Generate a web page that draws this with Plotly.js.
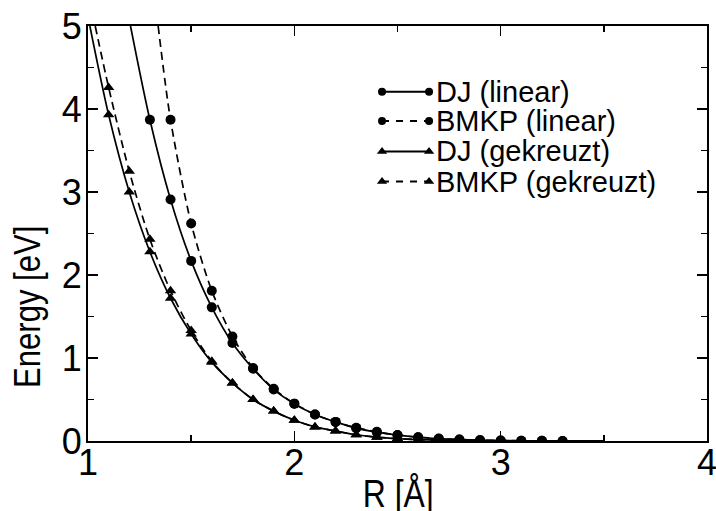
<!DOCTYPE html>
<html>
<head>
<meta charset="utf-8">
<script src="https://cdn.plot.ly/plotly-3.0.1.min.js"></script>
<style>html,body{margin:0;padding:0;background:#fff;}#chart{width:716px;height:511px;}</style>
</head>
<body>
<div id="chart"></div>
<script>
// ---- data ----
const SERIES_NAMES = ["DJ (linear)", "BMKP (linear)", "DJ (gekreuzt)", "BMKP (gekreuzt)"];

// marker points
const R_DJ_LIN = [1.3,1.4,1.5,1.6,1.7,1.8,1.9,2.0,2.1,2.2,2.3,2.4,2.5,2.6,2.7,2.8,2.9,3.0,3.1,3.2,3.3];
const E_DJ_LIN = [3.87,2.91,2.17,1.61,1.18,0.87,0.62,0.45,0.32,0.23,0.155,0.106,0.07,0.045,0.028,0.017,0.01,0.006,0.003,0.002,0.001];

const R_BMKP_LIN = [1.4,1.5,1.6,1.7,1.8,1.9,2.0,2.1,2.2,2.3,2.4,2.5,2.6,2.7,2.8,2.9,3.0,3.1,3.2,3.3];
const E_BMKP_LIN = [3.87,2.62,1.81,1.26,0.88,0.63,0.45,0.32,0.23,0.16,0.11,0.072,0.046,0.029,0.018,0.011,0.006,0.003,0.002,0.001];

const R_DJ_GEK = [1.1,1.2,1.3,1.4,1.5,1.6,1.7,1.8,1.9,2.0,2.1,2.2,2.3,2.4,2.5,2.6,2.7,2.8,2.9,3.0];
const E_DJ_GEK = [3.93,3.0,2.28,1.72,1.29,0.95,0.70,0.50,0.36,0.25,0.17,0.12,0.075,0.046,0.028,0.017,0.01,0.006,0.003,0.002];

const R_BMKP_GEK = [1.1,1.2,1.3,1.4,1.5,1.6,1.7,1.8,1.9,2.0,2.1,2.2,2.3,2.4,2.5,2.6,2.7,2.8,2.9,3.0];
const E_BMKP_GEK = [4.26,3.25,2.43,1.81,1.33,0.96,0.70,0.50,0.36,0.25,0.17,0.12,0.075,0.046,0.028,0.017,0.01,0.006,0.003,0.002];

// curve end points (where each line leaves the top, and where it ends)
const R_TOP = [1.206, 1.34, 1.009, 1.035];
const E_TOP = [5, 5, 5, 5];
const R_END = [3.5, 3.5, 3.5, 3.5];
const E_END = [0, 0, 0, 0];

const X_TICKS = [1,2,3,4];
const Y_TICKS = [0,1,2,3,4,5];
const X_TITLE = "R [Å]";
const Y_TITLE = "Energy [eV]";

// ---- styling ----
const DASHES = ["solid", "8px,5px", "solid", "8px,5px"];
const LEG_DASHES = ["solid", "7px,7px", "solid", "7px,7px"];
const SYMBOLS = ["circle", "circle", "triangle-up", "triangle-up"];
const MSIZE = [10, 10, 10, 10];
const LEG_MSIZE = [8, 8, 9, 9];
const TICKFONT = "Liberation Sans, Arial, sans-serif";
const TITLEFONT = "Liberation Sans, Arial, sans-serif";
const TITLE_SQUEEZE = 0.84; // titles in the reference use a narrow face

const MX = [R_DJ_LIN, R_BMKP_LIN, R_DJ_GEK, R_BMKP_GEK];
const MY = [E_DJ_LIN, E_BMKP_LIN, E_DJ_GEK, E_BMKP_GEK];

const traces = [];
for (let i = 0; i < 4; i++) {
  traces.push({
    x: [R_TOP[i]].concat(MX[i], [R_END[i]]),
    y: [E_TOP[i]].concat(MY[i], [E_END[i]]),
    mode: "lines", type: "scatter", showlegend: false, hoverinfo: "skip",
    line: {color: "#000", width: 1.7, dash: DASHES[i], shape: "spline", smoothing: 0.8}
  });
}
for (let i = 0; i < 4; i++) {
  traces.push({
    x: MX[i], y: MY[i], mode: "markers", type: "scatter", name: SERIES_NAMES[i], showlegend: false,
    marker: {symbol: SYMBOLS[i], size: MSIZE[i], color: "#000"}
  });
}
// legend glyphs in an invisible 0..1 overlay frame
const LEG_X = [0.475, 0.551];
const LEG_Y = [0.8417, 0.771, 0.6976, 0.6253];
const annotations = [];
for (let i = 0; i < 4; i++) {
  traces.push({
    x: LEG_X, y: [LEG_Y[i], LEG_Y[i]], xaxis: "x2", yaxis: "y2",
    mode: "lines+markers", type: "scatter", showlegend: false, hoverinfo: "skip",
    line: {color: "#000", width: 2, dash: LEG_DASHES[i]},
    marker: {symbol: SYMBOLS[i], size: LEG_MSIZE[i], color: "#000"}
  });
  annotations.push({
    xref: "paper", yref: "paper", x: 0.5633, y: LEG_Y[i], xanchor: "left", yanchor: "middle", xshift: -3,
    text: SERIES_NAMES[i], showarrow: false,
    font: {family: TICKFONT, size: 29, color: "#000"}
  });
}
annotations.push({
  xref: "paper", yref: "paper", x: 0, y: 0.323, xanchor: "right", yanchor: "middle", xshift: -38,
  text: Y_TITLE, textangle: -90, showarrow: false, name: "ytitle",
  font: {family: TITLEFONT, size: 37, color: "#000"}
});
annotations.push({
  xref: "paper", yref: "paper", x: 0.5, y: 0, xanchor: "center", yanchor: "top", yshift: -29,
  text: X_TITLE, showarrow: false, name: "xtitle",
  font: {family: TITLEFONT, size: 38, color: "#000"}
});

const axisCommon = {
  showgrid: false, zeroline: false, showline: true, linecolor: "#000", linewidth: 2,
  mirror: "ticks", ticks: "inside", ticklen: 10, tickwidth: 1.5, tickcolor: "#000",
  tickfont: {family: TICKFONT, size: 36, color: "#000"}, tickmode: "array",
  ticklabeloverflow: "allow"
};

const layout = {
  width: 716, height: 511,
  margin: {l: 88, r: 9, t: 26, b: 70, pad: 0},
  paper_bgcolor: "#fff", plot_bgcolor: "#fff",
  showlegend: false,
  xaxis: Object.assign({}, axisCommon, {
    range: [1, 4], tickvals: X_TICKS, ticktext: X_TICKS.map(String), ticklabelstandoff: -11,
    minor: {dtick: 0.5, tick0: 1, ticks: "inside", ticklen: 6, tickwidth: 1.5, tickcolor: "#000"}
  }),
  yaxis: Object.assign({}, axisCommon, {
    range: [0, 5], tickvals: Y_TICKS, ticktext: Y_TICKS.map(String), ticklabelstandoff: -3,
    minor: {dtick: 0.5, tick0: 0, ticks: "inside", ticklen: 6, tickwidth: 1.5, tickcolor: "#000"}
  }),
  xaxis2: {overlaying: "x", range: [0, 1], visible: false, fixedrange: true},
  yaxis2: {overlaying: "y", range: [0, 1], visible: false, fixedrange: true},
  annotations: annotations
};

function squeezeTitles(gd) {
  gd.querySelectorAll("text.annotation-text").forEach(function (t) {
    const s = t.textContent;
    if (s === X_TITLE || s === Y_TITLE) {
      const bb = t.getBBox();
      const cx = bb.x + bb.width / 2, cy = bb.y + bb.height / 2;
      const prev = t.getAttribute("transform") || "";
      t.setAttribute("transform", prev + " translate(" + cx + "," + cy + ") scale(" + TITLE_SQUEEZE + ",1) translate(" + (-cx) + "," + (-cy) + ")");
    }
  });
}

Plotly.newPlot("chart", traces, layout, {displayModeBar: false, staticPlot: true}).then(squeezeTitles);
</script>
</body>
</html>
